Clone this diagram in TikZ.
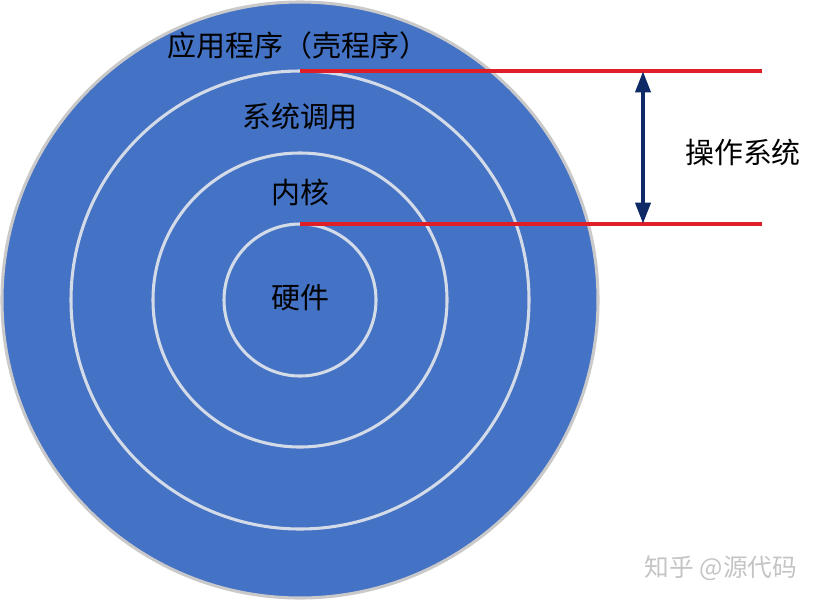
\documentclass[tikz,border=0pt]{standalone}
\usepackage{fontspec}
\setmainfont{Noto Sans CJK SC}
\usetikzlibrary{arrows.meta}
\definecolor{diskblue}{HTML}{4472C4}
\definecolor{ringgray}{HTML}{D3DAE8}
\definecolor{rimgray}{HTML}{C9C9C9}
\definecolor{linered}{HTML}{E01E28}
\definecolor{arrownavy}{HTML}{0E2A66}
\definecolor{markgray}{HTML}{C4C4C4}

\tikzset{
  ring/.style={
    circle,
    draw=ringgray,
    line width=2.3pt,
    inner sep=0pt,
    outer sep=0pt
  },
  ringtext/.style={
    font=\fontsize{21.7}{21.7}\selectfont,
    text=black,
    inner sep=0pt
  },
  redline/.style={draw=linered, line width=2.7pt},
  osarrow/.style={
    draw=arrownavy,
    line width=3.4pt,
    {Triangle[width=11pt,length=16pt]}-{Triangle[width=11pt,length=16pt]}
  },
}

\begin{document}
\begin{tikzpicture}[x=0.75pt, y=-0.75pt]
  \useasboundingbox (0,0) rectangle (820,601);
  \node[ring, fill=diskblue, draw=rimgray, minimum size=447pt] (disk) at (300,300) {};
  \node[ring, minimum size=343.5pt] (syscall) at (300,300) {};
  \node[ring, minimum size=220.5pt] (kernel) at (300,300) {};
  \node[ring, minimum size=114pt] (core) at (300,300) {};
  \node[ringtext] (app) at (298,45) {应用程序（壳程序）};
  \node[ringtext] (sys) at (300,117) {系统调用};
  \node[ringtext] (ker) at (300,192) {内核};
  \node[ringtext] (hw) at (300,298) {硬件};
  \coordinate (topend) at (762,71);
  \coordinate (botend) at (762,224);
  \draw[redline] (syscall.north) -- (topend);
  \draw[redline] (core.north) -- (botend);
  \coordinate (atop) at (643,71);
  \coordinate (abot) at (643,224);
  \draw[osarrow] (atop) -- (abot);
  \node[ringtext] (os) at (743,152) {操作系统};
  \node[ringtext, text=markgray, font=\fontsize{18.5}{18.5}\selectfont] (mark) at (721,568) {知乎 @源代码};
\end{tikzpicture}
\end{document}
